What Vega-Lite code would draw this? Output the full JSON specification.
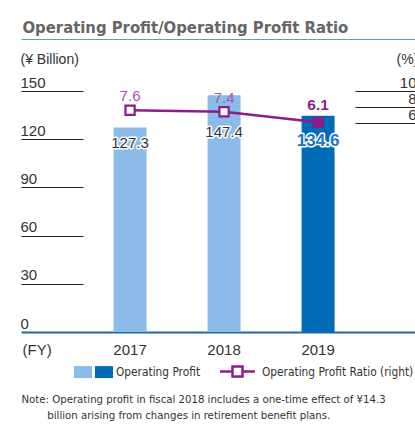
{
 "$schema": "https://vega.github.io/schema/vega-lite/v6.json",
 "width": 394,
 "height": 241,
 "autosize": "none",
 "padding": {"left": 21, "top": 91, "right": 0, "bottom": 92},
 "background": "white",
 "config": {"view": {"stroke": null}, "font": "Liberation Sans"},
 "title": {"text": "Operating Profit/Operating Profit Ratio", "anchor": "start", "frame": "group", "font": "'DejaVu Sans Condensed', 'Roboto Condensed', 'Arial Narrow', Roboto", "fontSize": 16.5, "fontWeight": "bold", "color": "#666666", "baseline": "alphabetic", "offset": 9.5, "dy": 19.5, "dx": 1.5},
 "datasets": {"fin": [
   {"year": "2017", "profit": 127.3, "ratio": 7.6, "shade": "light"},
   {"year": "2018", "profit": 147.4, "ratio": 7.4, "shade": "light"},
   {"year": "2019", "profit": 134.6, "ratio": 6.1, "shade": "dark"}
 ]},
 "data": {"name": "fin"},
 "layer": [
  {"layer": [
   {"mark": {"type": "bar"},
    "encoding": {
     "x": {"field": "year", "type": "ordinal", "scale": {"paddingInner": 0.649, "paddingOuter": 0.92, "align": 0.535},
       "axis": {"orient": "bottom", "domainColor": "#1f67b5", "domainWidth": 2, "ticks": false, "tickSize": 0, "labelPadding": 22.5, "labelBaseline": "alphabetic", "labelFontSize": 15, "labelColor": "#333333", "labelAngle": 0,
         "title": "(FY)", "titleX": 1, "titleY": 22.5, "titleAlign": "left", "titleBaseline": "alphabetic", "titleFontSize": 15, "titleFontWeight": "normal", "titleColor": "#333333"}},
     "y": {"field": "profit", "type": "quantitative", "scale": {"domain": [0, 150], "nice": false},
       "axis": {"orient": "left", "values": [0, 30, 60, 90, 120, 150], "domain": false, "grid": false, "tickSize": -62, "tickWidth": 1,
         "tickColor": {"condition": {"test": "datum.value === 0", "value": "transparent"}, "value": "#222222"},
         "labelAlign": "left", "labelBaseline": "alphabetic", "labelOffset": -4, "labelPadding": 63, "labelFontSize": 15, "labelColor": "#333333",
         "title": "(¥ Billion)", "titleAngle": 0, "titleX": -1, "titleY": -28, "titleAlign": "left", "titleBaseline": "alphabetic", "titleFontSize": 14, "titleFontWeight": "normal", "titleColor": "#333333"}},
     "color": {"field": "shade", "type": "nominal", "scale": {"domain": ["light", "dark"], "range": ["#8bbbe8", "#006cb8"]},
       "legend": {"orient": "none", "legendX": 53, "legendY": 272, "direction": "horizontal", "title": null, "padding": 0,
         "symbolType": "M-1,-0.667H1V0.667H-1Z", "symbolSize": 324, "symbolStrokeWidth": 0,
         "labelExpr": "datum.value == 'dark' ? 'Operating Profit' : ''", "labelOffset": 3, "columnPadding": -1.5, "labelLimit": 300,
         "labelFont": "'DejaVu Sans Condensed', 'Roboto Condensed', 'Arial Narrow', Roboto", "labelFontSize": 11.8, "labelColor": "#333333",
         "encode": {"symbols": {"update": {"fill": {"signal": "datum.value == 'light' ? '#7096cf' : '#0a66b8'"}, "opacity": {"value": 1}}}}}}
    }},
   {"transform": [{"filter": "datum.year == '2017'"}],
    "mark": {"type": "text", "fontSize": 15, "dy": 15.3, "baseline": "middle", "fill": "#ffffff", "stroke": "#ffffff", "strokeWidth": 3, "strokeJoin": "round"},
    "encoding": {"x": {"field": "year", "type": "ordinal", "axis": {"orient": "bottom"}}, "y": {"field": "profit", "type": "quantitative", "axis": {"orient": "left"}}, "text": {"field": "profit", "type": "quantitative", "format": ".1f"}}},
   {"transform": [{"filter": "datum.year == '2017'"}],
    "mark": {"type": "text", "fontSize": 15, "dy": 15.3, "baseline": "middle", "fill": "#333333"},
    "encoding": {"x": {"field": "year", "type": "ordinal", "axis": {"orient": "bottom"}}, "y": {"field": "profit", "type": "quantitative", "axis": {"orient": "left"}}, "text": {"field": "profit", "type": "quantitative", "format": ".1f"}}},
   {"transform": [{"filter": "datum.year == '2018'"}],
    "mark": {"type": "text", "fontSize": 15, "dy": 37, "baseline": "middle", "fill": "#ffffff", "stroke": "#ffffff", "strokeWidth": 3, "strokeJoin": "round"},
    "encoding": {"x": {"field": "year", "type": "ordinal", "axis": {"orient": "bottom"}}, "y": {"field": "profit", "type": "quantitative", "axis": {"orient": "left"}}, "text": {"field": "profit", "type": "quantitative", "format": ".1f"}}},
   {"transform": [{"filter": "datum.year == '2018'"}],
    "mark": {"type": "text", "fontSize": 15, "dy": 37, "baseline": "middle", "fill": "#333333"},
    "encoding": {"x": {"field": "year", "type": "ordinal", "axis": {"orient": "bottom"}}, "y": {"field": "profit", "type": "quantitative", "axis": {"orient": "left"}}, "text": {"field": "profit", "type": "quantitative", "format": ".1f"}}},
   {"transform": [{"filter": "datum.year == '2019'"}],
    "mark": {"type": "text", "fontSize": 17, "fontWeight": "bold", "dy": 25.7, "baseline": "middle", "fill": "#ffffff", "stroke": "#ffffff", "strokeWidth": 3, "strokeJoin": "round"},
    "encoding": {"x": {"field": "year", "type": "ordinal", "axis": {"orient": "bottom"}}, "y": {"field": "profit", "type": "quantitative", "axis": {"orient": "left"}}, "text": {"field": "profit", "type": "quantitative", "format": ".1f"}}},
   {"transform": [{"filter": "datum.year == '2019'"}],
    "mark": {"type": "text", "fontSize": 17, "fontWeight": "bold", "dy": 25.7, "baseline": "middle", "fill": "#2076c6"},
    "encoding": {"x": {"field": "year", "type": "ordinal", "axis": {"orient": "bottom"}}, "y": {"field": "profit", "type": "quantitative", "axis": {"orient": "left"}}, "text": {"field": "profit", "type": "quantitative", "format": ".1f"}}}
  ]},
  {"layer": [
   {"mark": {"type": "line", "strokeWidth": 2.5},
    "encoding": {
     "x": {"field": "year", "type": "ordinal",
       "axis": {"orient": "top", "offset": 52, "domainColor": "#5b9bd5", "domainWidth": 1.2, "labels": false, "ticks": false, "tickSize": 0,
         "title": ["Note: Operating profit in fiscal 2018 includes a one-time effect of ¥14.3", "\u200b\u00a0\u00a0\u00a0\u00a0\u00a0\u00a0\u00a0\u00a0billion arising from changes in retirement benefit plans."],
         "titleX": 0, "titleY": 363, "titleAlign": "left", "titleBaseline": "alphabetic", "titleAngle": 0, "titleLineHeight": 16.5, "titleLimit": 500,
         "titleFont": "'DejaVu Sans Condensed', 'Roboto Condensed', 'Arial Narrow', Roboto", "titleFontSize": 11.3, "titleFontWeight": "normal", "titleColor": "#333333"}},
     "y": {"field": "ratio", "type": "quantitative", "scale": {"domain": [-20.125, 10], "nice": false, "zero": false},
       "axis": {"orient": "right", "values": [6, 8, 10], "domain": false, "grid": false, "tickSize": -60, "tickWidth": 1, "tickColor": "#222222",
         "labelAlign": "right", "labelBaseline": "alphabetic", "labelOffset": -4, "labelPadding": 61, "labelFontSize": 15, "labelColor": "#333333",
         "title": "(%)", "titleAngle": 0, "titleX": -19, "titleY": -28, "titleAlign": "left", "titleBaseline": "alphabetic", "titleFontSize": 14, "titleFontWeight": "normal", "titleColor": "#333333"}},
     "stroke": {"datum": "Operating Profit Ratio (right)", "type": "nominal", "scale": {"range": ["#8c1d8b"]},
       "legend": {"orient": "none", "legendX": 210, "legendY": 274, "title": null, "padding": 0, "labelLimit": 300,
         "symbolType": "M-3.5,0H-1M1,0H3.5M-1,-1H1V1H-1Z", "symbolSize": 100, "symbolStrokeWidth": 2.5, "symbolFillColor": "#ffffff",
         "labelOffset": 18, "labelFont": "'DejaVu Sans Condensed', 'Roboto Condensed', 'Arial Narrow', Roboto", "labelFontSize": 11.8, "labelColor": "#333333",
         "encode": {"symbols": {"update": {"fill": {"value": "#ffffff"}, "opacity": {"value": 1}}}}}}
    }},
   {"mark": {"type": "point", "shape": "square", "size": 85, "strokeWidth": 2.2, "stroke": "#8c1d8b", "filled": true, "opacity": 1},
    "encoding": {
     "x": {"field": "year", "type": "ordinal", "axis": {"orient": "top"}},
     "y": {"field": "ratio", "type": "quantitative", "axis": {"orient": "right"}},
     "fill": {"condition": {"test": "datum.year == '2019'", "value": "#8c1d8b"}, "value": "#ffffff"}
    }},
   {"transform": [{"filter": "datum.year != '2019'"}],
    "mark": {"type": "text", "fontSize": 15, "dy": -14, "baseline": "middle", "fill": "#b350b0"},
    "encoding": {"x": {"field": "year", "type": "ordinal", "axis": {"orient": "top"}}, "y": {"field": "ratio", "type": "quantitative", "axis": {"orient": "right"}}, "text": {"field": "ratio", "type": "quantitative", "format": ".1f"}}},
   {"transform": [{"filter": "datum.year == '2019'"}],
    "mark": {"type": "text", "fontSize": 15.5, "fontWeight": "bold", "dy": -17, "baseline": "middle", "fill": "#8c1d8b"},
    "encoding": {"x": {"field": "year", "type": "ordinal", "axis": {"orient": "top"}}, "y": {"field": "ratio", "type": "quantitative", "axis": {"orient": "right"}}, "text": {"field": "ratio", "type": "quantitative", "format": ".1f"}}}
  ]}
 ],
 "resolve": {"scale": {"y": "independent"}, "axis": {"x": "independent", "y": "independent"}}
}
